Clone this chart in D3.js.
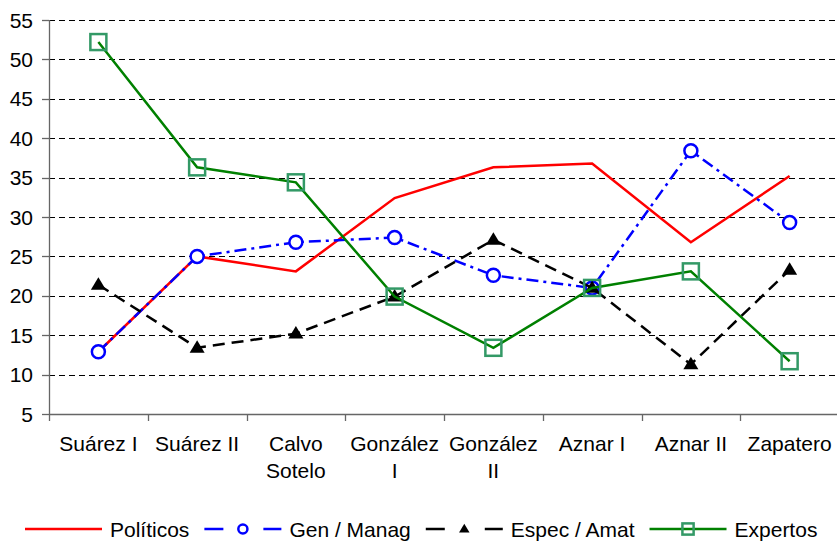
<!DOCTYPE html>
<html>
<head>
<meta charset="utf-8">
<script src="https://cdn.jsdelivr.net/npm/d3@7"></script>
<style>
    body { margin: 0; background: #fff; }
    svg { display: block; font-family: "Liberation Sans", Arial, sans-serif; }
    .ticklabel { font-size: 21px; fill: #000; }
    .legendlabel { font-size: 21px; fill: #000; }
</style>
</head>
<body>
<div id="linechart"></div>
<script>
(function() {

const w = 837;
const h = 542;

// data
const categories = ["Suárez I", "Suárez II", "Calvo Sotelo", "González I", "González II", "Aznar I", "Aznar II", "Zapatero"];
const categoryLines = [["Suárez I"], ["Suárez II"], ["Calvo", "Sotelo"], ["González", "I"], ["González", "II"], ["Aznar I"], ["Aznar II"], ["Zapatero"]];
const yTicks = [5, 10, 15, 20, 25, 30, 35, 40, 45, 50, 55];

const politicos = [12.9, 25, 23.1, 32.4, 36.3, 36.8, 26.8, 35.2];
const genManag = [12.9, 25, 26.8, 27.4, 22.6, 21, 38.4, 29.3];
const especAmat = [21.4, 13.4, 15.2, 19.9, 27.1, 21, 11.3, 23.3];
const expertos = [52.2, 36.3, 34.4, 19.9, 13.4, 21, 23.1, 11.7];

const seriesNames = ["Políticos", "Gen / Manag", "Espec / Amat", "Expertos"];

const series = [
    {name: seriesNames[0], values: politicos, color: "#ff0000", dash: null, marker: null},
    {name: seriesNames[1], values: genManag, color: "#0000ff", dash: "12,5,3,5", marker: "circle"},
    {name: seriesNames[2], values: especAmat, color: "#000000", dash: "12,7", marker: "triangle"},
    {name: seriesNames[3], values: expertos, color: "#008000", dash: null, marker: "square"},
];

const left = 49;
const right = 839;
const top = 20;
const bottom = 414;

var xScale = d3.scaleBand()
    .domain(categories)
    .range([left, right]);

var yScale = d3.scaleLinear()
    .domain([5, 55])
    .range([bottom, top]);

function cx(i) {
    return xScale(categories[i]) + xScale.bandwidth()/2;
}

var svg = d3.select("#linechart")
    .append("svg")
    .attr("width", w)
    .attr("height", h);

// gridlines
svg.selectAll("line.grid")
    .data(yTicks.filter(function(t) { return t > 5; }))
    .enter()
    .append("line")
    .attr("class", "grid")
    .attr("x1", left)
    .attr("x2", right)
    .attr("y1", function(d) { return Math.round(yScale(d)) + 0.5; })
    .attr("y2", function(d) { return Math.round(yScale(d)) + 0.5; })
    .attr("stroke", "#000")
    .attr("stroke-width", 1)
    .attr("stroke-dasharray", "6,4");

// y axis
svg.append("line")
    .attr("x1", left + 0.5)
    .attr("x2", left + 0.5)
    .attr("y1", top)
    .attr("y2", bottom)
    .attr("stroke", "#666")
    .attr("stroke-width", 1.3);

svg.selectAll("line.ytick")
    .data(yTicks)
    .enter()
    .append("line")
    .attr("class", "ytick")
    .attr("x1", left - 7)
    .attr("x2", left)
    .attr("y1", function(d) { return Math.round(yScale(d)) + 0.5; })
    .attr("y2", function(d) { return Math.round(yScale(d)) + 0.5; })
    .attr("stroke", "#666")
    .attr("stroke-width", 1.3);

svg.selectAll("text.ylabel")
    .data(yTicks)
    .enter()
    .append("text")
    .attr("class", "ticklabel")
    .attr("x", 33)
    .attr("y", function(d) { return yScale(d) + 7.5; })
    .attr("text-anchor", "end")
    .text(function(d) { return d; });

// x axis
svg.append("line")
    .attr("x1", left)
    .attr("x2", right)
    .attr("y1", bottom + 0.5)
    .attr("y2", bottom + 0.5)
    .attr("stroke", "#666")
    .attr("stroke-width", 1.3);

svg.selectAll("line.xtick")
    .data(categories.concat(["end"]))
    .enter()
    .append("line")
    .attr("class", "xtick")
    .attr("x1", function(d, i) { return Math.round(left + i*xScale.bandwidth()) + 0.5; })
    .attr("x2", function(d, i) { return Math.round(left + i*xScale.bandwidth()) + 0.5; })
    .attr("y1", bottom)
    .attr("y2", bottom + 7)
    .attr("stroke", "#666")
    .attr("stroke-width", 1.3);

var xLabels = svg.selectAll("text.xlabel")
    .data(categoryLines)
    .enter()
    .append("text")
    .attr("class", "ticklabel")
    .attr("text-anchor", "middle");

xLabels.selectAll("tspan")
    .data(function(d, i) {
        return d.map(function(s) { return {text: s, i: i}; });
    })
    .enter()
    .append("tspan")
    .attr("x", function(d) { return cx(d.i); })
    .attr("y", function(d, j) { return 451 + j*27; })
    .text(function(d) { return d.text; });

var line = d3.line()
    .x(function(d, i) { return cx(i); })
    .y(function(d) { return yScale(d); });

function drawMarker(g, type, color, x, y, scale) {
    if (type == "circle") {
        g.append("circle")
            .attr("cx", x)
            .attr("cy", y)
            .attr("r", 6.5*scale)
            .attr("fill", "#fff")
            .attr("stroke", color)
            .attr("stroke-width", 2.5);
    } else if (type == "triangle") {
        var s = 7.5*scale;
        g.append("path")
            .attr("d", `M${x},${y-s} L${x+s},${y+s*0.65} L${x-s},${y+s*0.65} Z`)
            .attr("fill", color);
    } else if (type == "square") {
        var s = 8*scale;
        g.append("rect")
            .attr("x", x - s)
            .attr("y", y - s)
            .attr("width", 2*s)
            .attr("height", 2*s)
            .attr("fill", "none")
            .attr("stroke", "#339966")
            .attr("stroke-width", 2.5);
    }
}

series.forEach(function(s) {
    var g = svg.append("g");
    g.append("path")
        .datum(s.values)
        .attr("d", line)
        .attr("fill", "none")
        .attr("stroke", s.color)
        .attr("stroke-width", 2.5)
        .attr("stroke-dasharray", s.dash);

    if (s.marker) {
        s.values.forEach(function(v, i) {
            drawMarker(g, s.marker, s.color, cx(i), yScale(v), 1);
        });
    }
});

// legend
var lx = 25;
const ly = 529;
series.forEach(function(s) {
    var g = svg.append("g");
    g.append("line")
        .attr("x1", lx)
        .attr("x2", lx + 77)
        .attr("y1", ly)
        .attr("y2", ly)
        .attr("stroke", s.color)
        .attr("stroke-width", 2.5)
        .attr("stroke-dasharray", s.dash ? "19,40,19" : null);
    if (s.marker) {
        drawMarker(g, s.marker, s.color, lx + 38.5, ly, 0.7);
    }
    var t = g.append("text")
        .attr("class", "legendlabel")
        .attr("x", lx + 85)
        .attr("y", ly + 7.5)
        .text(s.name);
    lx = lx + 85 + t.node().getComputedTextLength() + 15;
});

})();
</script>
</body>
</html>
